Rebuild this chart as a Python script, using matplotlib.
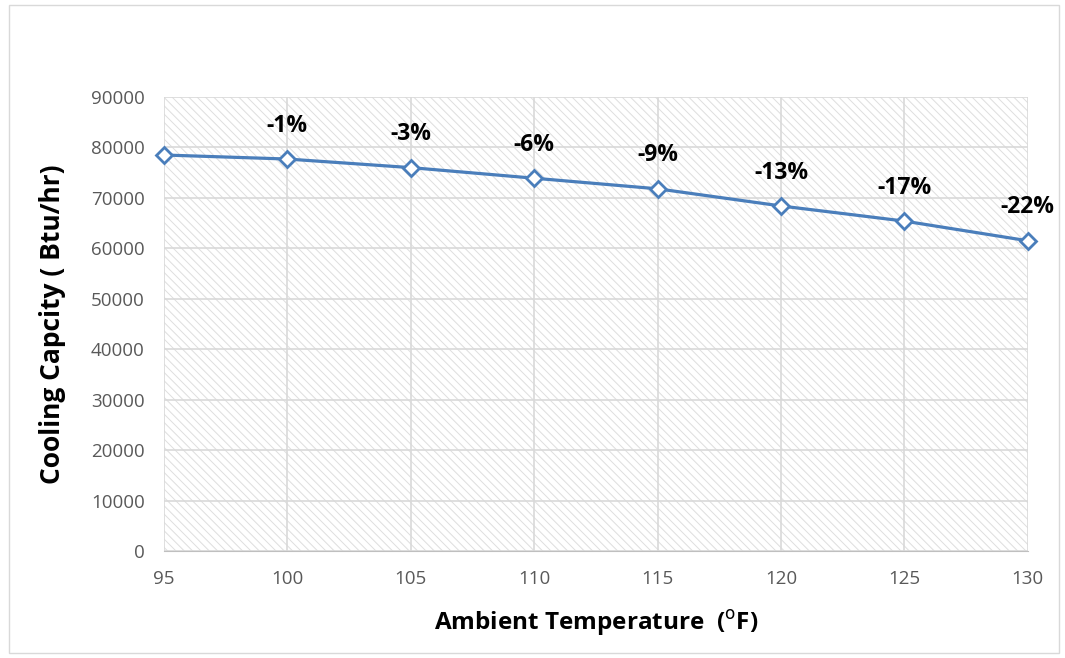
import matplotlib.pyplot as plt
from matplotlib.patches import Rectangle

# Cooling capacity vs ambient temperature
temps = [95, 100, 105, 110, 115, 120, 125, 130]
capacity = [78500, 77700, 76000, 73900, 71800, 68400, 65400, 61500]
pct_labels = ['', '-1%', '-3%', '-6%', '-9%', '-13%', '-17%', '-22%']

plt.rcParams['font.family'] = ['Open Sans', 'DejaVu Sans']
plt.rcParams['hatch.linewidth'] = 0.7

fig = plt.figure(figsize=(10.65, 6.58), dpi=100)
ax = fig.add_axes([0.154, 0.1626, 0.811, 0.69])

# hatched plot area
ax.add_patch(Rectangle((0, 0), 1, 1, transform=ax.transAxes, facecolor='white',
                       edgecolor='#dedede', hatch='\\\\\\\\', linewidth=0, zorder=0))

ax.plot(temps, capacity, color='#4a7ebb', linewidth=2.3, marker='D', markersize=8,
        markerfacecolor='white', markeredgecolor='#4a7ebb', markeredgewidth=2,
        zorder=3, clip_on=False)

for t, c, lab in zip(temps, capacity, pct_labels):
    if lab:
        ax.annotate(lab, (t, c), xytext=(0, 24), textcoords='offset points',
                    ha='center', va='center', fontsize=16.5, fontweight='bold')

ax.set_xlim(95, 130)
ax.set_ylim(0, 90000)
ax.set_xticks(range(95, 131, 5))
ax.set_yticks(range(0, 90001, 10000))
ax.grid(True, color='#d9d9d9', linewidth=1.2, zorder=1)
ax.set_axisbelow(True)
for s in ['top', 'right', 'left']:
    ax.spines[s].set_visible(False)
ax.spines['bottom'].set_color('#bfbfbf')
ax.tick_params(length=0, labelsize=13.5, labelcolor='#595959')
ax.tick_params(axis='y', pad=14)
ax.tick_params(axis='x', pad=14)

ax.set_xlabel(r'Ambient Temperature  ($^{\mathrm{o}}$F)', fontsize=17.5, fontweight='bold', labelpad=14)
ax.set_ylabel('Cooling Capcity ( Btu/hr)', fontsize=19, fontweight='bold', labelpad=18)

# outer chart border
fig.add_artist(Rectangle((0.008, 0.008), 0.986, 0.985, transform=fig.transFigure,
                         fill=False, edgecolor='#d9d9d9', linewidth=1))

fig.savefig('out.png', dpi=100)
